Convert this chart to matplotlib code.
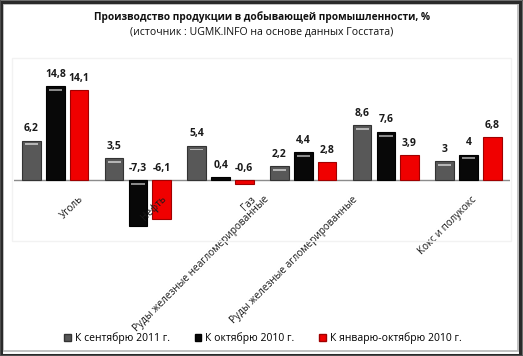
import matplotlib
matplotlib.use("Agg")
import matplotlib.pyplot as plt
import numpy as np
from matplotlib.patches import Rectangle

plt.rcParams['font.family'] = ['Open Sans', 'DejaVu Sans']

categories = ["Уголь", "Нефть", "Газ", "Руды железные неагломерированные",
              "Руды железные агломерированные", "Кокс и полукокс"]
series_names = ["К сентябрю 2011 г.", "К октябрю 2010 г.", "К январю-октябрю 2010 г."]
sep2011 = [6.2, 3.5, 5.4, 2.2, 8.6, 3]
oct2010 = [14.8, -7.3, 0.4, 4.4, 7.6, 4]
janoct2010 = [14.1, -6.1, -0.6, 2.8, 3.9, 6.8]
value_labels = [
    ["6,2", "3,5", "5,4", "2,2", "8,6", "3"],
    ["14,8", "-7,3", "0,4", "4,4", "7,6", "4"],
    ["14,1", "-6,1", "-0,6", "2,8", "3,9", "6,8"],
]
title = "Производство продукции в добывающей промышленности, %"
subtitle = "(источник : UGMK.INFO на основе данных Госстата)"

W, H = 523, 356
fig = plt.figure(figsize=(W / 100, H / 100), dpi=100)
fig.patch.set_facecolor("white")

# frame
fig.add_artist(Rectangle((3 / W, 5 / H), (W - 8) / W, (H - 9) / H, transform=fig.transFigure,
                         fill=False, edgecolor="#b8b8b8", lw=1.2))
fig.add_artist(Rectangle((1 / W, 1 / H), (W - 4) / W, (H - 3) / H, transform=fig.transFigure,
                         fill=False, edgecolor="#2a2a2a", lw=2.2))
fig.add_artist(Rectangle((0, 0), 1, 1, transform=fig.transFigure,
                         fill=False, edgecolor="#555555", lw=1.2))

# faint inner plot-area box
fig.add_artist(Rectangle((12 / W, (H - 241) / H), (W - 24) / W, 183 / H, transform=fig.transFigure,
                         fill=False, edgecolor="#f2f2f2", lw=1.0))

ax_left, ax_right = 14, 510
px_per_unit = 6.35
zero_px = 180
ymin, ymax = -8.0, 16.0
bottom_px = zero_px - ymin * px_per_unit
top_px = zero_px - ymax * px_per_unit
ax = fig.add_axes([ax_left / W, (H - bottom_px) / H, (ax_right - ax_left) / W,
                   (bottom_px - top_px) / H])
ax.set_xlim(-0.5, 5.5)
ax.set_ylim(ymin, ymax)
ax.axis("off")

x = np.arange(len(categories))
offsets = [-0.29, 0.0, 0.285]
width = 0.225
face = ["#585858", "#080808", "#f00000"]
edge = ["#333333", "#000000", "#a00000"]
hl = ["#b5b5b5", "#8a8a8a", None]
series = [sep2011, oct2010, janoct2010]

ax.axhline(0, color="#8c8c8c", lw=1.0, zorder=1)

for s, vals in enumerate(series):
    bars = ax.bar(x + offsets[s], vals, width, color=face[s], edgecolor=edge[s], lw=0.8, zorder=2)
    for b, v, lab in zip(bars, vals, value_labels[s]):
        top = max(v, 0)
        ax.annotate(lab, (b.get_x() + b.get_width() / 2, top), xytext=(0, 4.5),
                    textcoords="offset points", ha="center", va="bottom",
                    fontsize=7.5, fontweight="bold", color="#1a1a1a", zorder=4)
        if hl[s] is not None and abs(v) > 1:
            bx = b.get_x() + b.get_width() * 0.15
            bw = b.get_width() * 0.7
            ytop = b.get_y() + b.get_height() if v > 0 else 0
            ax.add_patch(Rectangle((bx, ytop - 0.75), bw, 0.3, facecolor=hl[s],
                                   edgecolor="none", zorder=3))

# rotated category labels
label_shift = [0.2, 0.19, 0.34, -1.23, -1.11, -0.25]
for i, (c, sh) in enumerate(zip(categories, label_shift)):
    ax.annotate(c, (i + sh, 0), xytext=(0, -10), textcoords="offset points",
                rotation=45, ha="center", va="top", fontsize=7.2, color="#1a1a1a")

fig.text(262 / W, 1 - 17 / H, title, ha="center", va="center", fontsize=7.3,
         fontweight="bold", color="#111111")
fig.text(262 / W, 1 - 32 / H, subtitle, ha="center", va="center", fontsize=7.6,
         color="#111111")

handles = [Rectangle((0, 0), 1, 1, facecolor=face[i], edgecolor=edge[i]) for i in range(3)]
fig.legend(handles, series_names, loc="center", bbox_to_anchor=(263 / W, 1 - 338 / H),
           ncol=3, frameon=False, fontsize=7.5, handlelength=0.6, handleheight=0.6,
           handletextpad=0.4, columnspacing=2.4)

fig.savefig("out.png", dpi=100, facecolor="white")
